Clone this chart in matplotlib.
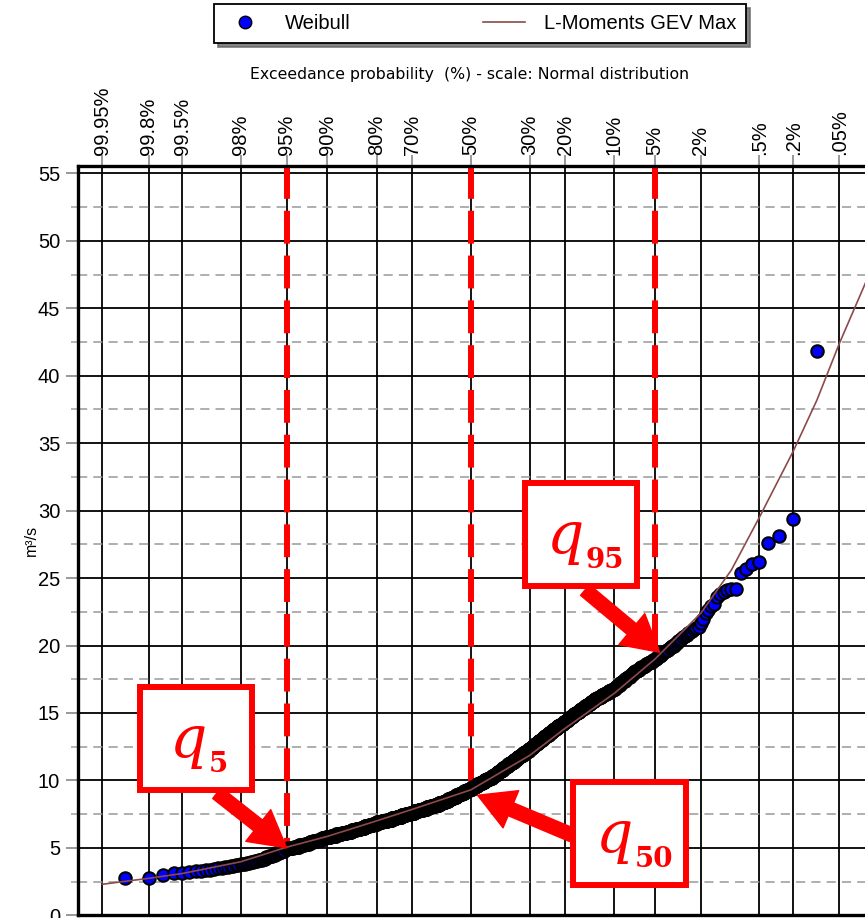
from statistics import NormalDist

import numpy as np
import matplotlib
matplotlib.use("Agg")
import matplotlib.pyplot as plt
from matplotlib.patches import Rectangle
from matplotlib.lines import Line2D
from matplotlib.ticker import MultipleLocator

plt.rcParams['font.family'] = ['Liberation Sans', 'DejaVu Sans']

# exceedance probabilities marked on the top axis (%)
prob_ticks = [99.95, 99.8, 99.5, 98, 95, 90, 80, 70, 50, 30, 20, 10, 5, 2, 0.5, 0.2, 0.05]
prob_labels = ['99.95%', '99.8%', '99.5%', '98%', '95%', '90%', '80%', '70%', '50%',
               '30%', '20%', '10%', '5%', '2%', '.5%', '.2%', '.05%']

# observed discharges (m3/s): lowest values one by one
low_flows = [2.74, 2.74, 2.99, 3.13, 3.16, 3.22, 3.26, 3.30, 3.34, 3.38,
             3.43, 3.47, 3.51, 3.55, 3.60, 3.63, 3.66, 3.70, 3.73, 3.77,
             3.80, 3.83, 3.87, 3.90, 3.94, 3.97]
# bulk of the record at 0.1 m3/s resolution: value and number of days
flow_class = [4.0, 4.1, 4.2, 4.3, 4.4, 4.5, 4.6, 4.7, 4.8, 4.9,
              5.0, 5.1, 5.2, 5.3, 5.4, 5.5, 5.6, 5.7, 5.8, 5.9,
              6.0, 6.1, 6.2, 6.3, 6.4, 6.5, 6.6, 6.7, 6.8, 6.9,
              7.0, 7.1, 7.2, 7.3, 7.4, 7.5, 7.6, 7.7, 7.8, 7.9,
              8.0, 8.1, 8.2, 8.3, 8.4, 8.5, 8.6, 8.7, 8.8, 8.9,
              9.0, 9.1, 9.2, 9.3, 9.4, 9.5, 9.6, 9.7, 9.8, 9.9,
              10.0, 10.1, 10.2, 10.3, 10.4, 10.5, 10.6, 10.7, 10.8, 10.9,
              11.0, 11.1, 11.2, 11.3, 11.4, 11.5, 11.6, 11.7, 11.8, 11.9,
              12.0, 12.1, 12.2, 12.3, 12.4, 12.5, 12.6, 12.7, 12.8, 12.9,
              13.0, 13.1, 13.2, 13.3, 13.4, 13.5, 13.6, 13.7, 13.8, 13.9,
              14.0, 14.1, 14.2, 14.3, 14.4, 14.5, 14.6, 14.7, 14.8, 14.9,
              15.0, 15.1, 15.2, 15.3, 15.4, 15.5, 15.6, 15.7, 15.8, 15.9,
              16.0, 16.1, 16.2, 16.3, 16.4, 16.5, 16.6, 16.7, 16.8, 16.9,
              17.0, 17.1, 17.2, 17.3, 17.4, 17.5, 17.6, 17.7, 17.8, 17.9,
              18.0, 18.1, 18.2, 18.3, 18.4, 18.5, 18.6, 18.7, 18.8, 18.9,
              19.0, 19.1, 19.2, 19.3, 19.4, 19.5, 19.6, 19.7, 19.8, 19.9,
              20.0, 20.1, 20.2, 20.3, 20.4, 20.5, 20.6, 20.7, 20.8, 20.9]
flow_count = [2, 3, 2, 2, 3, 2, 3, 2, 3, 2,
              6, 6, 6, 6, 5, 6, 6, 6, 8, 9,
              10, 9, 10, 9, 10, 9, 10, 9, 10, 13,
              14, 13, 13, 14, 13, 13, 14, 13, 13, 14,
              13, 13, 14, 13, 10, 9, 10, 9, 10, 9,
              10, 9, 10, 9, 9, 9, 9, 9, 9, 8,
              9, 9, 9, 7, 6, 6, 6, 6, 6, 6,
              6, 6, 6, 7, 6, 6, 6, 6, 6, 6,
              6, 6, 6, 5, 5, 5, 5, 5, 5, 5,
              5, 4, 5, 5, 5, 5, 5, 5, 5, 4,
              5, 5, 5, 5, 4, 4, 4, 4, 4, 4,
              5, 4, 4, 4, 4, 4, 4, 4, 4, 4,
              4, 4, 5, 4, 4, 4, 4, 4, 3, 2,
              3, 2, 2, 2, 3, 2, 2, 3, 2, 2,
              2, 3, 2, 2, 3, 2, 2, 2, 3, 2,
              2, 1, 2, 1, 1, 2, 1, 2, 1, 1,
              2, 1, 1, 1, 1, 1, 1, 1, 1, 1]
# highest values one by one
high_flows = [21.0, 21.1, 21.2, 21.3, 21.4, 21.7, 22.0, 22.4, 22.6, 22.9, 23.1, 23.6,
              23.8, 23.99, 24.1, 24.17, 24.17, 25.4, 25.65, 26.05, 26.2, 27.6, 28.1,
              29.35, 41.8]

# fitted GEV (L-moments) quantiles
gev_exceed = [99.95, 99.8, 99.5, 98, 95, 90, 80, 70, 50, 30, 20, 10, 5, 2, 1, 0.5,
              0.2, 0.1, 0.05, 0.02]
gev_flow = [2.30, 2.74, 3.10, 3.97, 5.05, 5.85, 7.0, 7.85, 9.3, 11.85, 13.86, 16.46,
            19.0, 22.4, 25.6, 29.5, 34.4, 38.2, 42.4, 47.2]

# characteristic flows marked with dashed lines
q_names = ['5', '50', '95']
q_exceed = [95, 50, 5]
q_flow = [5.0, 9.6, 19.3]

nd = NormalDist()


def prob_to_x(p_exceed):
    # normal probability scale, low flows on the left
    return nd.inv_cdf(1.0 - float(p_exceed) / 100.0)


flows = np.sort(np.concatenate([low_flows, np.repeat(flow_class, flow_count), high_flows]))
n = len(flows)
weibull_x = np.array([nd.inv_cdf(i / (n + 1)) for i in range(1, n + 1)])
gev_x = np.array([prob_to_x(p) for p in gev_exceed])

W, H = 865, 918
fig = plt.figure(figsize=(W / 100, H / 100), dpi=100)
ax = fig.add_axes([78.3 / W, 2.7 / H, (868 - 78.3) / W, (915.3 - 165.7) / H])

ymax = 55.57
ax.set_xlim(-3.505, 3.546)
ax.set_ylim(0, ymax)

ax.scatter(weibull_x, flows, s=80, facecolor='#0000ff', edgecolor='black',
           linewidth=1.5, zorder=3)
ax.plot(gev_x, gev_flow, color='#8c4a4a', lw=1.2, zorder=4)

for p, q in zip(q_exceed, q_flow):
    ax.plot([prob_to_x(p), prob_to_x(p)], [ymax, q], color='red', lw=4.3,
            dashes=(5.5, 2.0), zorder=2.5, solid_capstyle='butt')

# axes, ticks, grid
ax.xaxis.tick_top()
ax.set_xticks([prob_to_x(p) for p in prob_ticks])
ax.set_xticklabels(prob_labels, rotation=90, fontsize=14.5)
ax.yaxis.set_major_locator(MultipleLocator(5))
ax.yaxis.set_minor_locator(MultipleLocator(2.5))
ax.tick_params(axis='y', which='major', labelsize=14.5, length=9, width=1.2,
               color='#888888', pad=4)
ax.tick_params(axis='y', which='minor', length=5, width=1.2, color='#aaaaaa')
ax.tick_params(axis='x', which='major', length=8, width=1.2, color='#888888', pad=0)
ax.grid(which='major', color='black', lw=1.3, zorder=1)
ax.grid(which='minor', axis='y', color='#999999', lw=1.1, dashes=(6, 4), zorder=1)
ax.set_axisbelow(True)
for s in ax.spines.values():
    s.set_linewidth(2.4)
ax.set_ylabel('m³/s', fontsize=11.5)
ax.yaxis.set_label_coords(-0.05, 0.5)

fig.text(470 / W, 1 - 75 / H, 'Exceedance probability  (%) - scale: Normal distribution',
         fontsize=11.3, family='DejaVu Sans', ha='center', va='center')

# legend
handles = [Line2D([], [], ls='none', marker='o', ms=9, mfc='#0000ff', mec='black', mew=1.0),
           Line2D([], [], color='#8c4a4a', lw=1.2)]
leg = fig.legend(handles, ['Weibull', 'L-Moments GEV Max'], ncol=2, loc='upper left',
                 bbox_to_anchor=(214 / W, 1 - 4 / H), fontsize=14.5, frameon=True,
                 fancybox=False, shadow={'ox': 3, 'oy': -3, 'color': '0.4', 'alpha': 0.8},
                 edgecolor='black', framealpha=1, borderpad=0.5, handlelength=2.1,
                 handletextpad=0.9, columnspacing=6.6, borderaxespad=0)
leg.get_frame().set_linewidth(1.3)

# labelled boxes with arrows pointing at q5, q50, q95
boxes = {'5': (140, 687, 252, 790), '50': (573, 782, 686, 885), '95': (525, 483, 637, 586)}
q_left = {'5': 170, '50': 596, '95': 547}
tails = {'5': (217, 793), '50': (572, 835), '95': (585, 590)}
tip_shift = {'5': (0.0, 0.0), '50': (0.06, -0.7), '95': (0.04, 0.2)}

renderer = fig.canvas.get_renderer()
for name, p, q in zip(q_names, q_exceed, q_flow):
    x0, y0, x1, y1 = boxes[name]
    fig.add_artist(Rectangle((x0 / W, 1 - y1 / H), (x1 - x0) / W, (y1 - y0) / H,
                             transform=fig.transFigure, facecolor='white',
                             edgecolor='red', lw=4.3, zorder=5))
    qt = fig.text(q_left[name] / W, 1 - (y0 + 70) / H, 'q', color='red', fontsize=42,
                  family='DejaVu Serif', style='italic', ha='left', va='baseline', zorder=6)
    q_right = qt.get_window_extent(renderer).x1
    fig.text((q_right + 1) / W, 1 - (y0 + 85) / H, name, color='red', fontsize=20,
             family='DejaVu Serif', weight='bold', ha='left', va='baseline', zorder=6)
    tx, ty = tails[name]
    sx, sy = tip_shift[name]
    ax.annotate('', xy=(prob_to_x(p) + sx, q + sy), xycoords='data',
                xytext=(tx, H - ty), textcoords='figure pixels',
                arrowprops=dict(arrowstyle='simple,head_length=2.6,head_width=2.9,tail_width=1.0',
                                mutation_scale=10, color='red', shrinkA=0, shrinkB=0),
                zorder=4.5, annotation_clip=False)

fig.savefig('out.png', dpi=100)
